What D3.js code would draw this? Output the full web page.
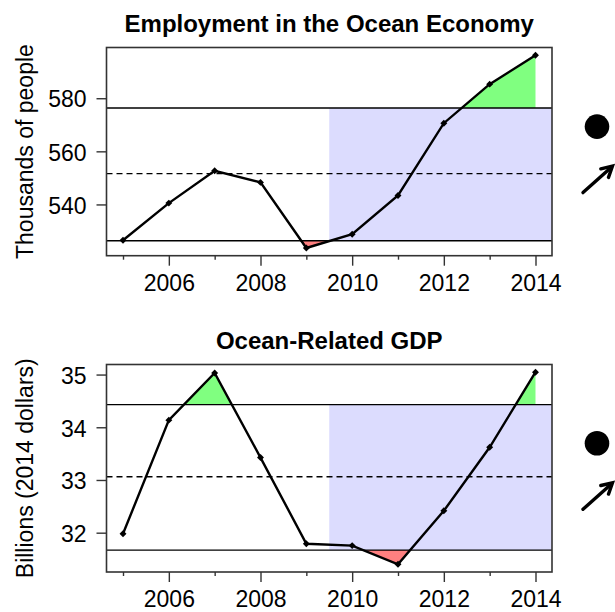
<!DOCTYPE html>
<html>
<head>
<meta charset="utf-8">
<script src="https://cdn.jsdelivr.net/npm/d3@7"></script>
<style>
  html, body { margin: 0; padding: 0; background: #fff; }
  svg { display: block; }
  text { font-family: "Liberation Sans", Arial, sans-serif; fill: #000; }
</style>
</head>
<body>
<svg id="chart" width="615" height="612"></svg>
<script>
// ---- data ----
const years = [2005, 2006, 2007, 2008, 2009, 2010, 2011, 2012, 2013, 2014];
const employment = [526.5, 540.5, 552.7, 548.3, 523.6, 528.8, 543.4, 570.6, 585.3, 596.2];
const gdp = [31.98, 34.135, 35.03, 33.425, 31.79, 31.755, 31.40, 32.415, 33.62, 35.045];
const employmentMean = 551.6, employmentUpper = 576.3, employmentLower = 526.3;
const gdpMean = 33.06, gdpUpper = 34.43, gdpLower = 31.67;
const employmentTicks = [540, 560, 580];
const gdpTicks = [32, 33, 34, 35];
const xMajorTicks = [2006, 2008, 2010, 2012, 2014];
const xMinorTicks = [2005, 2007, 2009, 2011, 2013];
const recentStart = 2009.5;
const titles = ["Employment in the Ocean Economy", "Ocean-Related GDP"];
const yLabels = ["Thousands of people", "Billions (2014 dollars)"];

const panels = [
  { title: titles[0], ylab: yLabels[0], values: employment, mean: employmentMean, upper: employmentUpper, lower: employmentLower, ticks: employmentTicks, top: 47.5, bottom: 255.7 },
  { title: titles[1], ylab: yLabels[1], values: gdp, mean: gdpMean, upper: gdpUpper, lower: gdpLower, ticks: gdpTicks, top: 364.5, bottom: 572 }
];

const svg = d3.select("#chart");
const left = 106.5, right = 552;
const xPad = (d3.max(years) - d3.min(years)) * 0.04;
const x = d3.scaleLinear().domain([d3.min(years) - xPad, d3.max(years) + xPad]).range([left, right]);
const FONT = '"Liberation Sans", Arial, sans-serif';

panels.forEach((p, i) => {
  const [mn, mx] = d3.extent(p.values);
  const pad = (mx - mn) * 0.04;
  const y = d3.scaleLinear().domain([mn - pad, mx + pad]).range([p.bottom, p.top]);
  const g = svg.append("g");
  const pts = years.map((yr, k) => [yr, p.values[k]]);

  // recent-period shading
  g.append("rect")
    .attr("x", x(recentStart)).attr("width", right - x(recentStart))
    .attr("y", y(p.upper)).attr("height", y(p.lower) - y(p.upper))
    .attr("fill", "#dcdcfe");

  // clip paths for above/below fills
  const defs = svg.append("defs");
  defs.append("clipPath").attr("id", "above" + i)
    .append("rect").attr("x", left).attr("width", right - left)
    .attr("y", p.top - 20).attr("height", y(p.upper) - p.top + 20);
  defs.append("clipPath").attr("id", "below" + i)
    .append("rect").attr("x", left).attr("width", right - left)
    .attr("y", y(p.lower)).attr("height", p.bottom - y(p.lower) + 20);

  const areaUp = d3.area().x(d => x(d[0])).y0(y(p.upper)).y1(d => y(d[1]));
  const areaDown = d3.area().x(d => x(d[0])).y0(y(p.lower)).y1(d => y(d[1]));
  g.append("path").attr("d", areaUp(pts)).attr("fill", "#80ff80").attr("clip-path", `url(#above${i})`);
  g.append("path").attr("d", areaDown(pts)).attr("fill", "#ff8080").attr("clip-path", `url(#below${i})`);

  // reference lines
  [p.upper, p.lower].forEach(v => {
    g.append("line").attr("x1", left).attr("x2", right).attr("y1", y(v)).attr("y2", y(v))
      .attr("stroke", "#000").attr("stroke-width", 1.4);
  });
  g.append("line").attr("x1", left).attr("x2", right).attr("y1", y(p.mean)).attr("y2", y(p.mean))
    .attr("stroke", "#000").attr("stroke-width", 1.4).attr("stroke-dasharray", "6,4");

  // data line and points
  const line = d3.line().x(d => x(d[0])).y(d => y(d[1]));
  g.append("path").attr("d", line(pts)).attr("fill", "none").attr("stroke", "#000").attr("stroke-width", 2.4);
  g.selectAll("path.pt").data(pts).join("path").attr("class", "pt")
    .attr("transform", d => `translate(${x(d[0])},${y(d[1])}) rotate(45)`)
    .attr("d", d3.symbol().type(d3.symbolSquare).size(24))
    .attr("fill", "#000");

  // box
  g.append("rect").attr("x", left).attr("y", p.top).attr("width", right - left).attr("height", p.bottom - p.top)
    .attr("fill", "none").attr("stroke", "#333").attr("stroke-width", 1.6);

  // y axis
  const yAxis = d3.axisLeft(y).tickValues(p.ticks).tickSize(10).tickPadding(10).tickFormat(d3.format("d"));
  const ya = g.append("g").attr("transform", `translate(${left},0)`).call(yAxis);
  ya.select(".domain").remove();
  ya.selectAll("line").attr("stroke", "#333").attr("stroke-width", 1.4);
  ya.selectAll("text").attr("font-size", 23).attr("font-family", FONT).attr("dy", "0.38em");

  // x axis major
  const xAxis = d3.axisBottom(x).tickValues(xMajorTicks).tickSize(10).tickPadding(9).tickFormat(d3.format("d"));
  const xa = g.append("g").attr("transform", `translate(0,${p.bottom})`).call(xAxis);
  xa.select(".domain").remove();
  xa.selectAll("line").attr("stroke", "#333").attr("stroke-width", 1.4);
  xa.selectAll("text").attr("font-size", 23).attr("font-family", FONT);
  // minor
  const xAxisMinor = d3.axisBottom(x).tickValues(xMinorTicks).tickSize(4).tickFormat("");
  const xm = g.append("g").attr("transform", `translate(0,${p.bottom})`).call(xAxisMinor);
  xm.select(".domain").remove();
  xm.selectAll("line").attr("stroke", "#333").attr("stroke-width", 1.4);

  // title
  g.append("text").attr("x", (left + right) / 2).attr("y", p.top - 16)
    .attr("text-anchor", "middle").attr("font-size", 24).attr("font-weight", "bold").text(p.title);

  // y label
  const cy = (p.top + p.bottom) / 2;
  g.append("text").attr("transform", `translate(33,${cy}) rotate(-90)`)
    .attr("text-anchor", "middle").attr("font-size", 23).text(p.ylab);

  // status symbols on the right
  g.append("circle").attr("cx", 597).attr("cy", cy - 25).attr("r", 12.3).attr("fill", "#000");
  const ax0 = 583, ay0 = cy + 41, ax1 = 612.5, ay1 = cy + 14.5;
  g.append("line").attr("x1", ax0).attr("y1", ay0).attr("x2", ax1 - 2).attr("y2", ay1 + 2)
    .attr("stroke", "#000").attr("stroke-width", 3.4).attr("stroke-linecap", "round");
  const ang = Math.atan2(ay1 - ay0, ax1 - ax0);
  const hl = 12;
  const head = [ang + Math.PI - 0.5, ang + Math.PI + 0.5].map(a => [ax1 + hl * Math.cos(a), ay1 + hl * Math.sin(a)]);
  g.append("path")
    .attr("d", `M${head[0][0]},${head[0][1]} L${ax1},${ay1} L${head[1][0]},${head[1][1]}`)
    .attr("fill", "none").attr("stroke", "#000").attr("stroke-width", 3.4)
    .attr("stroke-linejoin", "miter").attr("stroke-linecap", "round");
});
</script>
</body>
</html>
